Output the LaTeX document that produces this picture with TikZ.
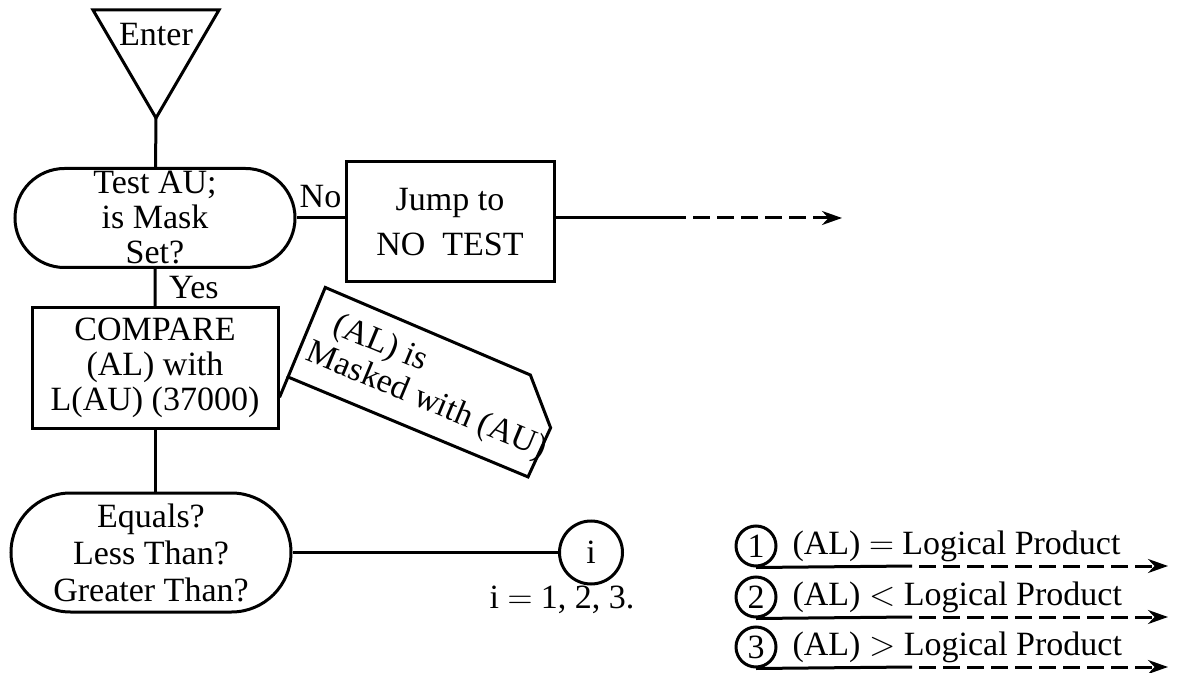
\documentclass[tikz,border=0pt]{standalone}
\usepackage{fontspec}
\setmainfont{Liberation Serif}
\usepackage{tikz}
\usetikzlibrary{arrows.meta,shapes.misc,positioning,calc}
\tikzstyle{line} = [line width=1.5pt]
\tikzstyle{arrow} = [line width=1.5pt, -{Stealth[length=10pt, width=7pt]}]
\tikzstyle{dasharrow} = [arrow, dash pattern=on 8.5pt off 3.5pt, dash phase=8.5pt]
\tikzstyle{decision} = [rounded rectangle, draw, line width=1.5pt, minimum width=140pt, inner sep=0pt, align=center]
\tikzstyle{procbox} = [rectangle, draw, line width=1.5pt, inner sep=0pt, align=center]
\tikzstyle{connector} = [circle, draw, line width=1.5pt, inner sep=0pt]

\begin{document}
\begin{tikzpicture}[x=0.5pt, y=0.5pt, font=\fontsize{17}{17.5}\selectfont]
\useasboundingbox (0,0) rectangle (1177,-673);

% Entry
\coordinate (entertip) at (156,-118);
\draw[line] (entertip) -- (93,-10) -- (219,-10) -- cycle;
\node (enter) at (156,-35) {Enter};

% Mask test
\node[decision, minimum height=49.5pt] (test) at (155,-218) {Test AU;\\is Mask\\Set?};
\node[procbox, minimum width=104pt, minimum height=60pt] (jump) at (450,-222) {Jump to\\[5pt]NO~~TEST};
\coordinate (jumpdash) at (686,-218);
\coordinate (jumpend) at (842,-218);

% Compare
\node[procbox, minimum width=123pt, minimum height=60pt] (compare) at (155,-368) {COMPARE\\(AL) with\\L(AU) (37000)};
\node[decision, minimum height=59.5pt] (equals) at (151,-552.5) {Equals?\\[1pt]Less Than?\\[1pt]Greater Than?};
\node[connector, minimum size=31.5pt] (inode) at (591,-552.5) {i};
\node (irange) at (562,-600) {i $=$ 1, 2, 3.};

% Arrows
\draw[line] (entertip) -- (test);
\draw[line] (test.east) -- (test.east -| jump.west) node[midway, above=1pt] {No};
\draw[line] (test.east -| jump.east) -- (jumpdash);
\draw[dasharrow] (jumpdash) -- (jumpend);
\draw[line] (test) -- (compare) node[midway, right=3pt] {Yes};
\draw[line] (compare) -- (compare |- equals.north);
\draw[line] (equals.east) -- (inode.west);

% Annotation
\begin{scope}[shift={(288,-377)}, rotate=-22.6]
\draw[line] (0,0) -- (260,0) -- (262,54) -- (223,95) -- (0,97) -- cycle;
\draw[line] (0,0) -- (0,-22);
\node[anchor=west, align=left, transform shape] (mask) at (2,48) {\hspace{7pt}(AL) is\\Masked with (AU)};
\end{scope}

% Exits
\node[connector, minimum size=20pt] (c1) at (756,-546) {1};
\node[connector, minimum size=20pt] (c2) at (756,-597) {2};
\node[connector, minimum size=20pt] (c3) at (756,-647) {3};
\node[right=4pt of c1] (t1) {(AL) $=$ Logical Product};
\node[right=4pt of c2] (t2) {(AL) $<$ Logical Product};
\node[right=4pt of c3] (t3) {(AL) $>$ Logical Product};
\coordinate (s1) at (912,-566);
\coordinate (s2) at (912,-617);
\coordinate (s3) at (912,-667);
\coordinate (e1) at (1168,-566);
\coordinate (e2) at (1168,-617);
\coordinate (e3) at (1168,-667);
\draw[line] (c1.south) -- (s1);
\draw[dasharrow] (s1) -- (e1);
\draw[line] (c2.south) -- (s2);
\draw[dasharrow] (s2) -- (e2);
\draw[line] (c3.south) -- (s3);
\draw[dasharrow] (s3) -- (e3);
\end{tikzpicture}
\end{document}
